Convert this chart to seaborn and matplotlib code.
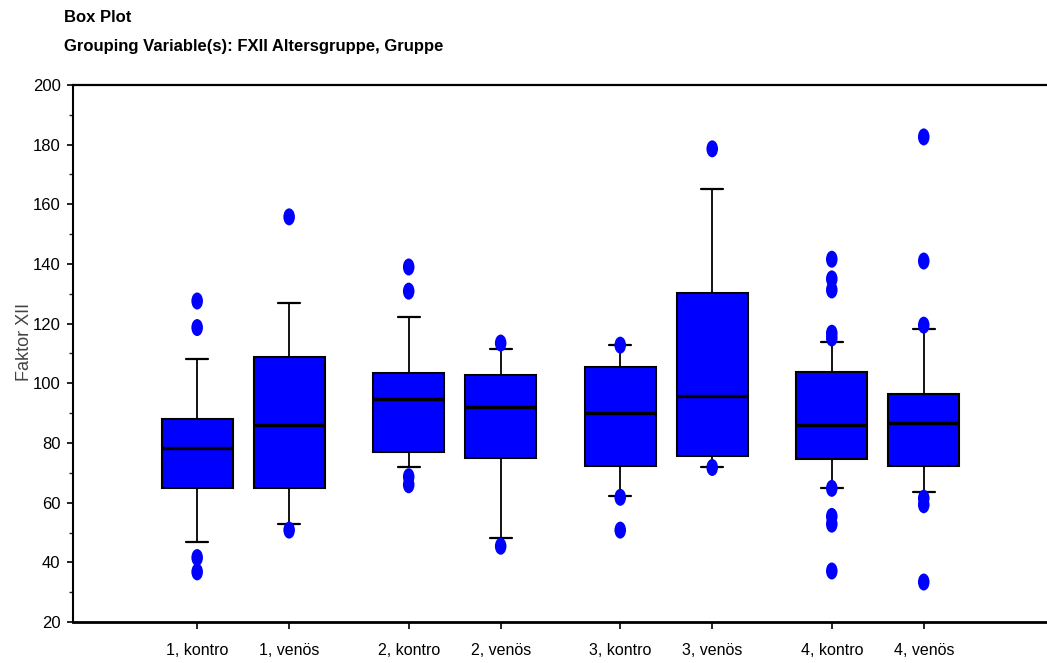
import numpy as np
import pandas as pd
import seaborn as sns
import matplotlib.pyplot as plt
from matplotlib.path import Path
from matplotlib.ticker import MultipleLocator

# box statistics
labels = ["1, kontro", "1, venös", "2, kontro", "2, venös",
          "3, kontro", "3, venös", "4, kontro", "4, venös"]
q1 = [65.0, 65.0, 77.0, 75.0, 72.2, 75.6, 74.5, 72.2]
med = [78.4, 85.9, 94.6, 91.9, 89.9, 95.9, 85.9, 86.6]
q3 = [88.0, 108.7, 103.3, 102.7, 105.4, 130.3, 103.9, 96.5]
whislo = [46.9, 52.9, 71.8, 48.1, 62.3, 71.8, 65.0, 63.6]
whishi = [108.1, 126.9, 122.2, 111.4, 112.8, 165.2, 114.0, 118.2]
outliers = [
    [127.6, 118.7, 41.6, 36.8],
    [155.8, 50.8],
    [139.0, 130.9, 68.7, 66.0],
    [113.5, 45.4],
    [112.8, 61.8, 50.8],
    [178.6, 71.8],
    [141.6, 135.0, 131.3, 116.8, 115.2, 64.8, 55.4, 52.8, 37.1],
    [182.6, 141.0, 119.5, 61.5, 59.3, 33.4],
]

sns.set_style("ticks")
plt.rcParams['font.family'] = ['Liberation Sans', 'DejaVu Sans']

BLUE = '#0000FF'

# two boxes per age group, a gap between groups
pos = [g * 2.3 + k for g in range(4) for k in (0, 1)]

fig = plt.figure(figsize=(10.47, 6.63), dpi=100)
ax = fig.add_axes([73 / 1047, 1 - 622 / 663, 1 - 73 / 1047, (622 - 85) / 663])

stats = []
for i in range(len(labels)):
    stats.append(dict(med=med[i], q1=q1[i], q3=q3[i],
                      whislo=whislo[i], whishi=whishi[i], fliers=[]))

ax.bxp(stats, positions=pos, widths=0.77, capwidths=0.24,
       patch_artist=True, showfliers=False,
       boxprops=dict(facecolor=BLUE, edgecolor='black', linewidth=1.5),
       medianprops=dict(color='black', linewidth=2.4),
       whiskerprops=dict(color='black', linewidth=1.3),
       capprops=dict(color='black', linewidth=1.6))

# outliers as upright ellipses
fl = pd.DataFrame({
    'pos': [pos[i] for i in range(len(labels)) for _ in outliers[i]],
    'value': [v for vals in outliers for v in vals],
})
circ = Path.unit_circle()
ellipse = Path(circ.vertices * np.array([0.68, 1.0]), circ.codes)
sns.scatterplot(data=fl, x='pos', y='value', marker=ellipse, s=150,
                color=BLUE, edgecolor='none', linewidth=0, ax=ax,
                zorder=4, legend=False)

ax.set_xlim(-1.35, 9.24)
ax.set_ylim(20, 200)
ax.set_yticks(np.arange(20, 201, 20))
ax.yaxis.set_minor_locator(MultipleLocator(10))
ax.set_xticks(pos)
ax.set_xticklabels(labels, fontsize=11.5)
ax.set_xlabel('')
ax.set_ylabel('Faktor XII', fontsize=13, color='#444444')
ax.yaxis.set_label_coords(-0.041, 0.521)

ax.tick_params(axis='y', which='major', length=4, width=1.2, pad=5,
               labelsize=12, colors='black')
ax.tick_params(axis='y', which='minor', length=3, width=1.0)
ax.tick_params(axis='x', length=5, width=1.2, pad=10, colors='black')

ax.spines['right'].set_visible(False)
ax.spines['top'].set_visible(True)
ax.spines['top'].set_linewidth(1.6)
ax.spines['bottom'].set_linewidth(2.0)
ax.spines['left'].set_linewidth(1.5)
for s in ax.spines.values():
    s.set_color('black')

fig.text(64 / 1047, 1 - 18 / 663, 'Box Plot', color='black',
         fontweight='bold', fontsize=12, va='center', ha='left')
fig.text(64 / 1047, 1 - 47 / 663, 'Grouping Variable(s): FXII Altersgruppe, Gruppe',
         color='black', fontweight='bold', fontsize=12, va='center', ha='left')

fig.savefig('out.png', dpi=100)
